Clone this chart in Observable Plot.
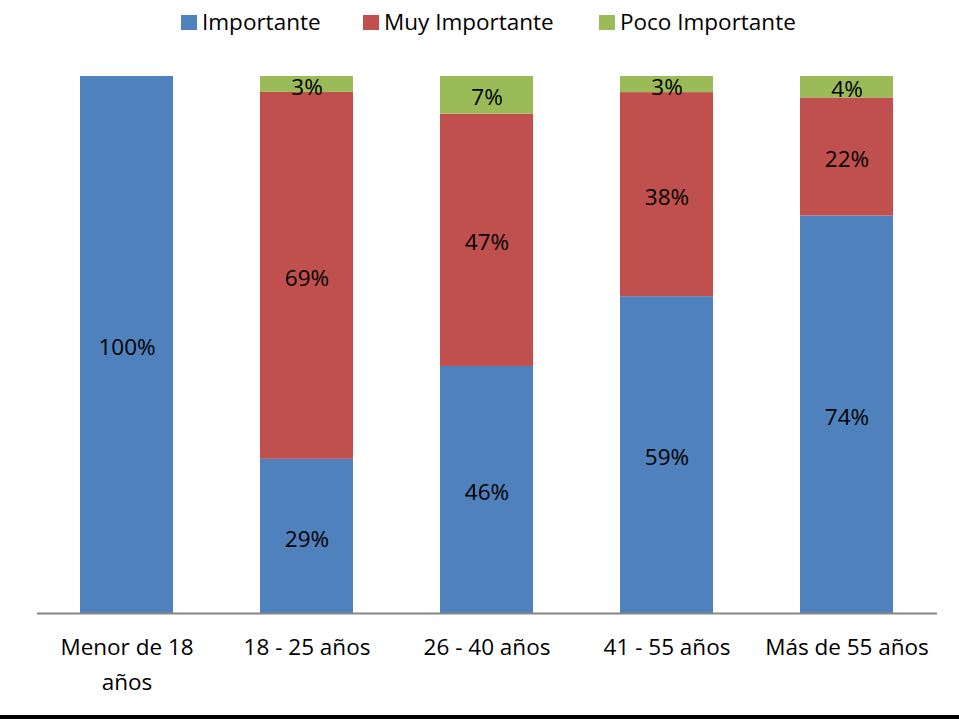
<!DOCTYPE html>
<html>
<head>
<meta charset="utf-8">
<script src="https://cdn.jsdelivr.net/npm/d3@7"></script>
<script src="https://cdn.jsdelivr.net/npm/@observablehq/plot@0.6"></script>
<style>
  body { margin: 0; background: #fff; font-family: "Open Sans", sans-serif; }
  #wrap { width: 959px; height: 719px; position: relative; overflow: hidden; }
  #legend { height: 44px; position: relative; font-size: 22.5px; color: #000; }
  .item { position: absolute; top: 6px; height: 30px; display: flex; align-items: center; white-space: nowrap; }
  .sw { width: 16px; height: 15px; margin-right: 5px; margin-top: 3px; }
  #rule { position: absolute; left: 0; top: 715px; width: 959px; height: 4px; background: #000; }
</style>
</head>
<body>
<div id="wrap">
  <div id="legend"></div>
  <div id="chart"></div>
  <div id="rule"></div>
</div>
<script>
// Age groups and the share of answers for each rating
const grupos = ["Menor de 18\naños", "18 - 25 años", "26 - 40 años", "41 - 55 años", "Más de 55 años"];
const series = ["Importante", "Muy Importante", "Poco Importante"];
const colores = ["#4F81BD", "#C0504D", "#9BBB59"];
const importante = [100, 29, 46, 59, 74];
const muyImportante = [0, 69, 47, 38, 22];
const pocoImportante = [0, 3, 7, 3, 4];

const valores = [importante, muyImportante, pocoImportante];
const datos = [];
series.forEach((s, i) => {
  grupos.forEach((g, j) => {
    datos.push({grupo: g, serie: s, valor: valores[i][j]});
  });
});
const conEtiqueta = datos.filter(d => d.valor > 0);

// Legend
const legend = document.getElementById("legend");
const legendX = [181, 363, 599];
series.forEach((s, i) => {
  const el = document.createElement("div");
  el.className = "item";
  el.style.left = legendX[i] + "px";
  el.innerHTML = `<span class="sw" style="background:${colores[i]}"></span><span>${s}</span>`;
  legend.appendChild(el);
});

const stack = {x: "grupo", y: "valor", z: "serie", offset: "normalize"};

const chart = Plot.plot({
  width: 959,
  height: 671,
  marginTop: 32,
  marginBottom: 102,
  marginLeft: 37,
  marginRight: 22,
  style: {fontFamily: "Open Sans, sans-serif", background: "transparent"},
  x: {domain: grupos, paddingInner: 0.483, paddingOuter: 0.24, label: null},
  y: {domain: [0, 1], axis: null},
  color: {domain: series, range: colores},
  marks: [
    Plot.barY(datos, Plot.stackY({...stack, fill: "serie"})),
    Plot.text(conEtiqueta, Plot.stackY({
      ...stack,
      text: d => d.valor + "%",
      fontSize: 22.5,
      dy: 3,
      fill: "#000"
    })),
    Plot.ruleY([0], {stroke: "#868686", strokeWidth: 2}),
    Plot.axisX({
      tickSize: 0,
      tickPadding: 17,
      fontSize: 22.5,
      lineHeight: 1.55,
      fill: "#000",
      label: null
    })
  ]
});
document.getElementById("chart").appendChild(chart);
</script>
</body>
</html>
